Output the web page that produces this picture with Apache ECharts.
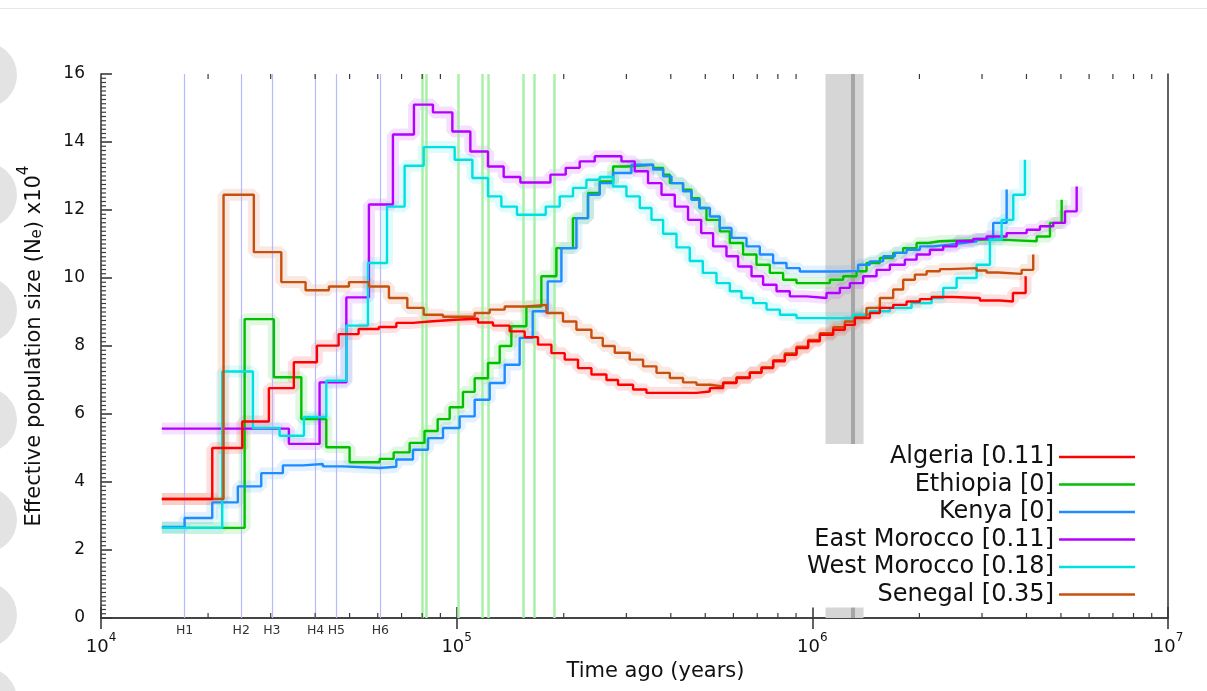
<!DOCTYPE html>
<html>
<head>
<meta charset="utf-8">
<script src="https://cdn.jsdelivr.net/npm/echarts@6/dist/echarts.min.js"></script>
<style>
  html, body { margin: 0; padding: 0; background: #fff; }
  #chart { width: 1207px; height: 691px; }
</style>
</head>
<body>
<div id="chart"></div>
<script>
// PSMC curves: time ago (years) and Ne (x10^4)
const algeriaT = [14830, 20550, 24960, 29650, 34850, 40460, 46570, 53000, 60450, 67670, 75350, 83970, 98720, 114790, 126500, 140930, 155330, 169300, 184670, 201280, 219360, 239260, 263710, 284290, 313290, 341650, 472420, 514860, 561170, 612070, 667120, 719620, 775890, 836940, 902540, 973190, 1049800, 1144200, 1234300, 1316800, 1450800, 1548200, 1687800, 1840800, 2006300, 2164400, 2484500, 2959500, 3368200, 3664400, 3978500];
const algeriaNe = [3.5, 5.0, 5.78, 6.76, 7.52, 8.01, 8.35, 8.5, 8.56, 8.68, 8.72, 8.77, 8.8, 8.69, 8.6, 8.43, 8.26, 8.04, 7.79, 7.6, 7.35, 7.16, 7.0, 6.86, 6.72, 6.62, 6.66, 6.76, 6.91, 7.06, 7.21, 7.35, 7.55, 7.74, 7.94, 8.14, 8.33, 8.48, 8.62, 8.82, 8.97, 9.12, 9.21, 9.31, 9.38, 9.44, 9.41, 9.34, 9.31, 9.56, 10.05];

const ethiopiaT = [14830, 25340, 30620, 36580, 43000, 50000, 60730, 66500, 73760, 81200, 88420, 95570, 104160, 112360, 122460, 132130, 142500, 157050, 173040, 190710, 212360, 234030, 252530, 275270, 300160, 356650, 380610, 397460, 432990, 457250, 481670, 503960, 549280, 586000, 638700, 696630, 759460, 827800, 902540, 1120000, 1220800, 1331400, 1420100, 1548200, 1687800, 1800500, 1963700, 2117500, 2283800, 3090300, 3368200, 4272700, 4657300, 5023400];
const ethiopiaNe = [2.65, 8.79, 7.08, 5.85, 5.02, 4.58, 4.68, 4.87, 5.15, 5.5, 5.85, 6.2, 6.65, 7.05, 7.5, 8.0, 8.58, 9.16, 10.05, 10.88, 11.76, 12.5, 12.84, 13.28, 13.33, 13.24, 13.04, 12.79, 12.6, 12.35, 12.06, 11.71, 11.37, 11.03, 10.69, 10.39, 10.15, 9.95, 9.85, 9.95, 10.05, 10.2, 10.44, 10.59, 10.74, 10.88, 11.03, 11.08, 11.13, 11.13, 11.08, 11.22, 11.62, 12.3];

const kenyaT = [14830, 17180, 20550, 24250, 28220, 32460, 36950, 42060, 47890, 60730, 67670, 75350, 83040, 91520, 101950, 112360, 123820, 136460, 150360, 163590, 180300, 197000, 217100, 234030, 252530, 275270, 309990, 356650, 380610, 401710, 432990, 457250, 481670, 514860, 549280, 592510, 652990, 711710, 775890, 846060, 922100, 1195100, 1345200, 1450800, 1581700, 1706500, 1840800, 2006300, 2186900, 2437000, 2655900, 2896700, 3225600, 3518300];
const kenyaNe = [2.68, 2.94, 3.4, 3.87, 4.26, 4.49, 4.53, 4.46, 4.41, 4.45, 4.66, 4.95, 5.29, 5.59, 5.93, 6.42, 6.91, 7.45, 8.24, 9.02, 9.9, 10.88, 11.76, 12.45, 12.79, 13.09, 13.33, 13.19, 12.99, 12.79, 12.55, 12.3, 12.06, 11.81, 11.47, 11.18, 10.93, 10.69, 10.44, 10.29, 10.19, 10.21, 10.39, 10.49, 10.64, 10.74, 10.83, 10.93, 10.98, 11.03, 11.08, 11.15, 11.62, 12.6];

const eastMoroccoT = [14830, 33750, 41170, 48960, 56660, 66190, 75840, 85760, 97250, 109260, 122460, 135570, 151050, 183480, 202580, 221800, 244450, 290640, 316740, 345210, 376600, 410410, 447270, 487020, 526020, 573580, 618450, 674530, 727120, 793050, 864370, 963160, 1096200, 1195100, 1275000, 1389400, 1515400, 1652000, 1820500, 1963700, 2140600, 2333300, 2544600, 2833400, 3090300, 3518300, 4004400, 4365200, 4758100, 5132200, 5536300];
const eastMoroccoNe = [5.57, 5.12, 6.93, 9.43, 12.16, 14.22, 15.1, 14.87, 14.31, 13.72, 13.28, 12.97, 12.81, 13.04, 13.24, 13.43, 13.58, 13.43, 13.14, 12.79, 12.45, 12.1, 11.71, 11.32, 10.93, 10.64, 10.34, 10.05, 9.8, 9.61, 9.46, 9.41, 9.56, 9.71, 9.85, 10.05, 10.24, 10.39, 10.54, 10.69, 10.83, 10.93, 11.08, 11.15, 11.22, 11.32, 11.42, 11.52, 11.62, 11.96, 12.69];

const westMoroccoT = [14830, 21920, 26730, 31780, 37200, 43000, 48960, 56300, 63700, 71390, 80780, 98720, 110700, 122460, 133550, 147750, 177990, 194840, 212360, 231620, 252530, 275270, 300160, 327180, 352970, 380610, 414980, 452230, 492090, 537650, 586000, 632120, 681560, 743380, 810210, 902540, 1302600, 1450800, 1652000, 1901100, 2164400, 2333300, 2544600, 2896700, 3157200, 3405700, 3672800, 3960200];
const westMoroccoNe = [2.65, 7.25, 5.59, 5.36, 5.91, 6.98, 8.6, 10.44, 12.1, 13.3, 13.85, 13.48, 12.94, 12.4, 12.1, 11.86, 12.1, 12.4, 12.65, 12.89, 12.97, 12.69, 12.4, 12.06, 11.71, 11.3, 10.9, 10.5, 10.15, 9.85, 9.61, 9.41, 9.26, 9.07, 8.92, 8.82, 8.92, 9.02, 9.12, 9.26, 9.41, 9.71, 10.0, 10.39, 11.13, 11.71, 12.45, 13.48];

const senegalT = [14830, 22110, 26900, 32130, 37600, 43730, 49790, 56660, 64500, 72650, 80780, 91520, 112360, 123820, 136460, 157050, 178770, 199060, 217100, 239260, 257470, 278260, 306650, 334260, 364630, 397460, 432990, 472420, 514860, 561170, 612070, 667120, 719620, 775890, 836940, 902540, 973190, 1049800, 1144200, 1234300, 1316800, 1420100, 1548200, 1687800, 1800500, 1942200, 2095700, 2283800, 2437000, 2896700, 3090300, 3332000, 3877100, 4179100];
const senegalNe = [3.5, 12.45, 10.76, 9.88, 9.64, 9.75, 9.88, 9.75, 9.41, 9.12, 8.92, 8.86, 8.97, 9.07, 9.16, 9.21, 8.97, 8.72, 8.48, 8.24, 8.0, 7.8, 7.6, 7.4, 7.21, 7.06, 6.93, 6.86, 6.81, 6.93, 7.08, 7.23, 7.38, 7.58, 7.78, 7.98, 8.18, 8.38, 8.55, 8.72, 8.85, 9.12, 9.41, 9.66, 9.95, 10.1, 10.2, 10.26, 10.29, 10.22, 10.16, 10.12, 10.24, 10.69];

const popNames = ['Algeria [0.11]', 'Ethiopia [0]', 'Kenya [0]', 'East Morocco [0.11]', 'West Morocco [0.18]', 'Senegal [0.35]'];

// vertical markers (years)
const hLines = [17180, 24800, 30230, 40120, 45880, 61010];
const hLabels = ['H1', 'H2', 'H3', 'H4', 'H5', 'H6'];
const greenLines = [80080, 82180, 100850, 117810, 123030, 154010, 165710, 188270];
const bandRange = [1089000, 1393000];
const bandCenter = 1297500;
const xMinorTicks = [2e4, 3e4, 4e4, 5e4, 6e4, 7e4, 8e4, 9e4, 2e5, 3e5, 4e5, 5e5, 6e5, 7e5, 8e5, 9e5, 2e6, 3e6, 4e6, 5e6, 6e6, 7e6, 8e6, 9e6];
// y minor ticks every 0.125
const yMinorTicks = [];
for (let k = 1; k < 128; k++) if (k % 16) yMinorTicks.push(k / 8);

const FONT = 'DejaVu Sans';
const pops = [
  { name: popNames[0], t: algeriaT, ne: algeriaNe, color: '#ff0000', z: 6 },
  { name: popNames[1], t: ethiopiaT, ne: ethiopiaNe, color: '#00c000', z: 5 },
  { name: popNames[2], t: kenyaT, ne: kenyaNe, color: '#1e8cff', z: 5 },
  { name: popNames[3], t: eastMoroccoT, ne: eastMoroccoNe, color: '#b400ff', z: 5 },
  { name: popNames[4], t: westMoroccoT, ne: westMoroccoNe, color: '#00e0e0', z: 5 },
  { name: popNames[5], t: senegalT, ne: senegalNe, color: '#c8500f', z: 5 }
];

const chart = echarts.init(document.getElementById('chart'));

const series = [];
// grey band + markers
series.push({
  type: 'line', data: [], z: 1, silent: true,
  markArea: {
    silent: true,
    itemStyle: { color: '#d6d6d6' },
    data: [[{ xAxis: bandRange[0], yAxis: 0 }, { xAxis: bandRange[1], yAxis: 16 }]]
  },
  markLine: {
    silent: true, symbol: 'none', label: { show: false },
    lineStyle: { color: '#a6a6a6', width: 4, type: 'solid' },
    data: [{ xAxis: bandCenter }]
  }
});
series.push({
  type: 'line', data: [], z: 2, silent: true,
  markLine: {
    silent: true, symbol: 'none',
    lineStyle: { color: '#b8b8ff', width: 1.2, type: 'solid' },
    label: { show: true, position: 'start', formatter: '{b}', fontFamily: FONT, fontSize: 12.5, color: '#333', distance: 6 },
    data: hLines.map((v, i) => ({ xAxis: v, name: hLabels[i] }))
  }
});
series.push({
  type: 'line', data: [], z: 2, silent: true,
  markLine: {
    silent: true, symbol: 'none', label: { show: false },
    lineStyle: { color: '#a8f0a8', width: 2.5, type: 'solid' },
    data: greenLines.map(v => ({ xAxis: v }))
  }
});

// bootstrap halo under each curve
pops.forEach(p => {
  series.push({
    name: p.name + ' bs', type: 'line', step: 'end', showSymbol: false, silent: true, z: 3,
    data: p.t.map((v, i) => [v, p.ne[i]]),
    lineStyle: { color: p.color, width: 12, opacity: 0.12 }
  });
});
pops.forEach(p => {
  series.push({
    name: p.name, type: 'line', step: 'end', showSymbol: false, z: p.z,
    data: p.t.map((v, i) => [v, p.ne[i]]),
    itemStyle: { color: p.color },
    lineStyle: { color: p.color, width: 2.4 }
  });
});

const tickStroke = { stroke: '#3a3a3a', lineWidth: 1.2 };
// minor ticks of the log axis, bottom and top
series.push({
  type: 'custom', silent: true, z: 7,
  data: xMinorTicks.map(v => [v, 0]),
  renderItem: function (params, api) {
    const b = api.coord([api.value(0), 0]);
    const t = api.coord([api.value(0), 16]);
    return {
      type: 'group',
      children: [
        { type: 'line', shape: { x1: b[0], y1: b[1], x2: b[0], y2: b[1] - 5 }, style: tickStroke },
        { type: 'line', shape: { x1: t[0], y1: t[1], x2: t[0], y2: t[1] + 5 }, style: tickStroke }
      ]
    };
  }
});
// minor ticks of the y axis
series.push({
  type: 'custom', silent: true, z: 7,
  data: yMinorTicks.map(v => [1e4, v]),
  renderItem: function (params, api) {
    const p = api.coord([1e4, api.value(1)]);
    return { type: 'line', shape: { x1: p[0], y1: p[1], x2: p[0] + 5, y2: p[1] }, style: tickStroke };
  }
});

const axisLineStyle = { color: '#3a3a3a', width: 1.6 };
const blobs = [75, 195, 310, 420, 520, 615, 700];

chart.setOption({
  animation: false,
  backgroundColor: '#fff',
  grid: { left: 101, right: 39, top: 74, bottom: 73, containLabel: false },
  graphic: [
    { type: 'line', shape: { x1: 0, y1: 8.5, x2: 1207, y2: 8.5 }, style: { stroke: '#e6e6e6', lineWidth: 1 } }
  ].concat(blobs.map(cy => ({
    type: 'circle', shape: { cx: -16, cy: cy, r: 33 }, style: { fill: '#e3e3e3' }, z: -1
  }))),
  legend: {
    data: popNames, orient: 'vertical', right: 72, top: 444, align: 'right',
    icon: 'rect', itemWidth: 76, itemHeight: 2.5, itemGap: 3.5,
    padding: [1, 0, 1, 6], backgroundColor: '#fff', z: 10, selectedMode: false,
    textStyle: { fontFamily: FONT, fontSize: 24, lineHeight: 24, color: '#111' }
  },
  xAxis: [
    {
      type: 'log', logBase: 10, min: 1e4, max: 1e7, position: 'bottom',
      name: 'Time ago (years)', nameLocation: 'middle', nameGap: 32,
      nameTextStyle: { fontFamily: FONT, fontSize: 21, color: '#111', padding: [0, 0, 0, 42] },
      axisLine: { lineStyle: axisLineStyle },
      axisTick: { inside: true, length: 11, lineStyle: axisLineStyle },
      splitLine: { show: false },
      axisLabel: {
        margin: 14,
        formatter: v => '{b|10}{s|' + Math.round(Math.log10(v)) + '}',
        rich: {
          b: { fontFamily: FONT, fontSize: 18, color: '#111', lineHeight: 24, verticalAlign: 'bottom' },
          s: { fontFamily: FONT, fontSize: 12, color: '#111', lineHeight: 12, verticalAlign: 'top' }
        }
      }
    },
    {
      type: 'log', logBase: 10, min: 1e4, max: 1e7, position: 'top',
      axisLine: { lineStyle: axisLineStyle },
      axisTick: { inside: true, length: 11, lineStyle: axisLineStyle },
      axisLabel: { show: false }, splitLine: { show: false }
    }
  ],
  yAxis: [
    {
      type: 'value', min: 0, max: 16, interval: 2, position: 'left',
      name: '{n|Effective population size (N}{sub|e}{n|) x10}{sup|4}',
      nameLocation: 'middle', nameRotate: 90, nameGap: 56,
      nameTextStyle: {
        rich: {
          n: { fontFamily: FONT, fontSize: 21, color: '#111', lineHeight: 28, verticalAlign: 'bottom' },
          sub: { fontFamily: FONT, fontSize: 15, color: '#111', lineHeight: 15, verticalAlign: 'bottom' },
          sup: { fontFamily: FONT, fontSize: 15, color: '#111', lineHeight: 15, verticalAlign: 'top' }
        }
      },
      axisLine: { show: true, lineStyle: axisLineStyle },
      axisTick: { show: true, inside: true, length: 11, lineStyle: axisLineStyle },
      splitLine: { show: false },
      axisLabel: { fontFamily: FONT, fontSize: 17, color: '#111', margin: 16 }
    },
    {
      type: 'value', min: 0, max: 16, position: 'right',
      axisLine: { show: true, lineStyle: axisLineStyle },
      axisTick: { show: false }, axisLabel: { show: false }, splitLine: { show: false }
    }
  ],
  series: series
});
</script>
</body>
</html>
